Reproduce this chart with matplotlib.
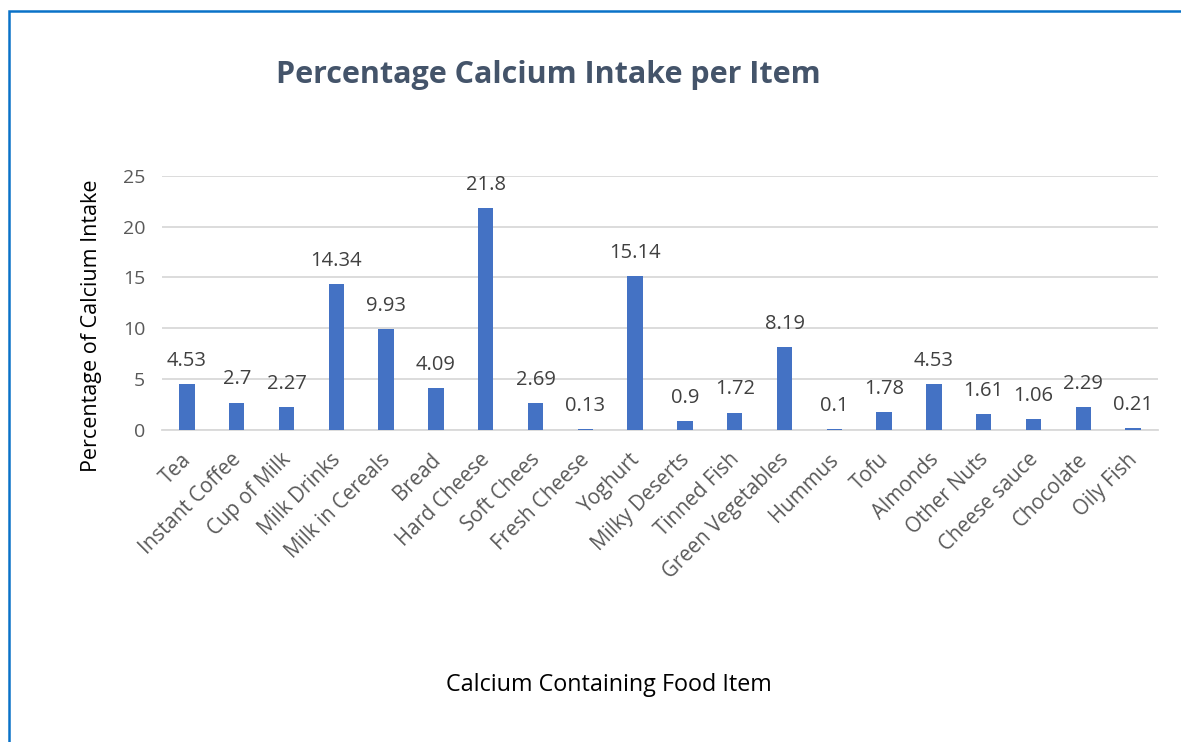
import matplotlib
matplotlib.use("Agg")
import matplotlib.pyplot as plt
import matplotlib.transforms as mtransforms
from matplotlib.patches import Rectangle

categories = ["Tea", "Instant Coffee", "Cup of Milk", "Milk Drinks", "Milk in Cereals",
              "Bread", "Hard Cheese", "Soft Chees", "Fresh Cheese", "Yoghurt",
              "Milky Deserts", "Tinned Fish", "Green Vegetables", "Hummus", "Tofu",
              "Almonds", "Other Nuts", "Cheese sauce", "Chocolate", "Oily Fish"]
values = [4.53, 2.7, 2.27, 14.34, 9.93, 4.09, 21.8, 2.69, 0.13, 15.14,
          0.9, 1.72, 8.19, 0.1, 1.78, 4.53, 1.61, 1.06, 2.29, 0.21]
value_labels = ["4.53", "2.7", "2.27", "14.34", "9.93", "4.09", "21.8", "2.69", "0.13", "15.14",
                "0.9", "1.72", "8.19", "0.1", "1.78", "4.53", "1.61", "1.06", "2.29", "0.21"]
yticks = [0, 5, 10, 15, 20, 25]

plt.rcParams['font.family'] = ['Open Sans', 'DejaVu Sans']

W, H = 1181, 742
fig = plt.figure(figsize=(W / 100, H / 100), dpi=100)

# outer chart border (cropped at right/bottom)
fig.add_artist(Rectangle((9.5 / W, -0.1), 1.2, 1 - 11 / H + 0.1, transform=fig.transFigure,
                         fill=False, edgecolor='#0A72C8', linewidth=1.8))

n = len(categories)
ax = fig.add_axes([162 / W, 1 - 430 / H, (1158 - 162) / W, (430 - 175.7) / H])
x = list(range(n))
ax.bar(x, values, width=0.31, color='#4472C4', zorder=3)
ax.set_xlim(-0.5, n - 0.5)
ax.set_ylim(0, 25)
ax.set_yticks(yticks)
ax.set_yticklabels([str(t) for t in yticks], fontsize=14, color='#595959')
ax.yaxis.grid(True, color='#D9D9D9', linewidth=1.3, zorder=0)
ax.tick_params(axis='both', length=0)
ax.tick_params(axis='y', pad=12)
for s in ['top', 'right', 'left']:
    ax.spines[s].set_visible(False)
ax.spines['bottom'].set_color('#D9D9D9')
ax.spines['bottom'].set_linewidth(1.3)

ax.set_xticks(x)
ax.set_xticklabels(categories, rotation=45, ha='right', va='top', rotation_mode='anchor',
                   fontsize=14.8, color='#595959')
ax.tick_params(axis='x', pad=8)
shift = mtransforms.ScaledTranslation(-6 / 100, -8 / 100, fig.dpi_scale_trans)
for lbl in ax.get_xticklabels():
    lbl.set_transform(lbl.get_transform() + shift)

for xi, v, lab in zip(x, values, value_labels):
    ax.annotate(lab, (xi, v), xytext=(0, 13), textcoords='offset points',
                ha='center', va='baseline', fontsize=14.5, color='#404040')

fig.text(548 / W, 1 - 75 / H, "Percentage Calcium Intake per Item", ha='center', va='center',
         fontsize=22, fontweight='bold', color='#44546A')
fig.text(92 / W, 1 - 326 / H, "Percentage of Calcium Intake", rotation=90, ha='center', va='center',
         fontsize=15.5, color='black')
fig.text(609 / W, 1 - 685 / H, "Calcium Containing Food Item", ha='center', va='center',
         fontsize=16.8, color='black')

fig.savefig("out.png", dpi=100)
